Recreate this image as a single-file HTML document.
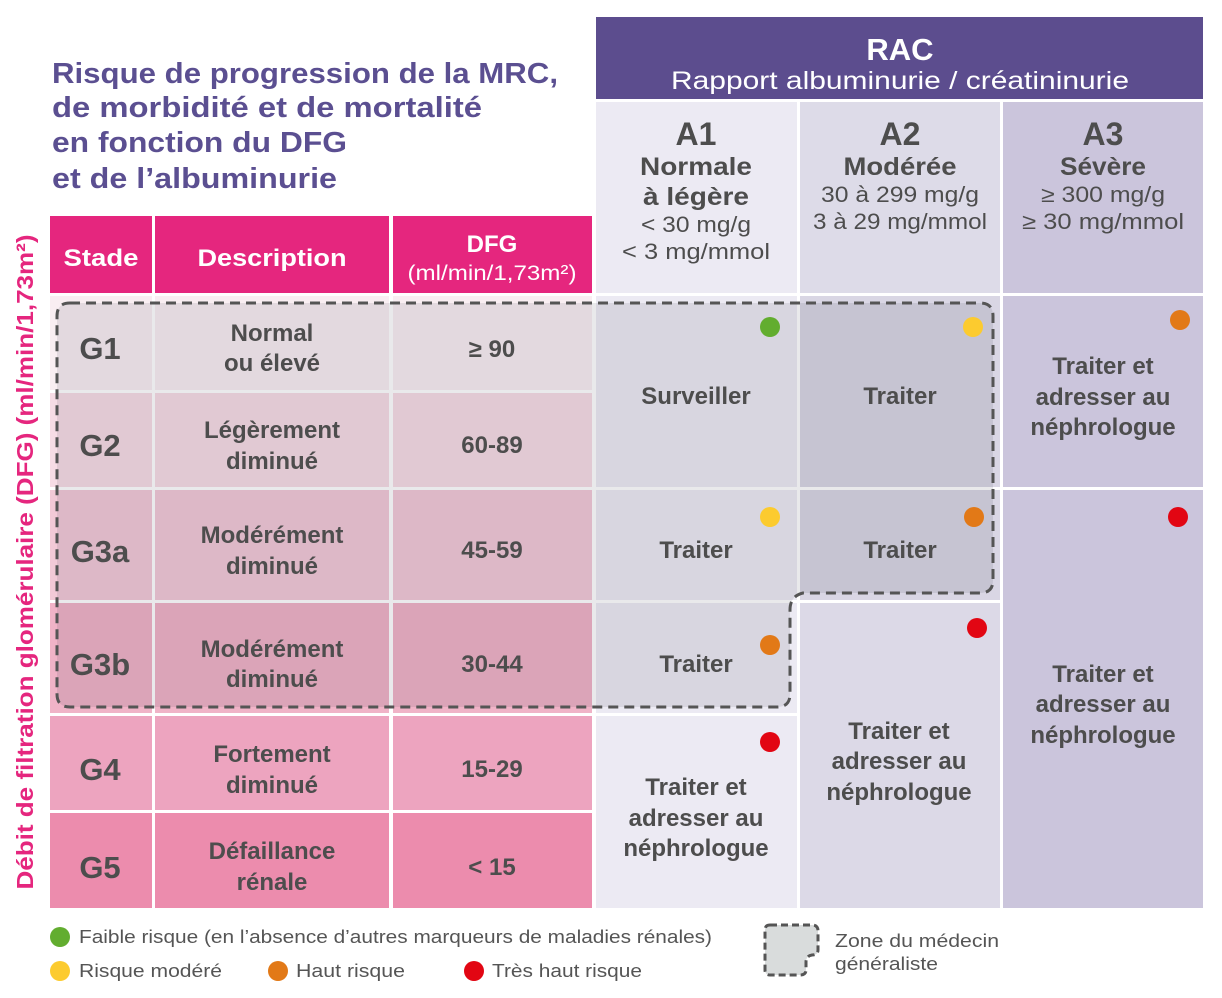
<!DOCTYPE html>
<html><head><meta charset="utf-8"><style>
html,body{margin:0;padding:0;background:#fff;}
svg{display:block;}
text{font-family:"Liberation Sans",sans-serif;}
.t{fill:#4d4d4d;font-size:24px;font-weight:bold;text-anchor:middle;}
.g{fill:#4d4d4d;font-size:31px;font-weight:bold;text-anchor:middle;}
.h{fill:#4d4d4d;text-anchor:middle;}
.l{fill:#555;font-size:18px;}
</style></head><body>
<svg width="1222" height="998" viewBox="0 0 1222 998">
<g fill="#5b4f91" font-size="29" font-weight="bold">
<text x="52" y="83" textLength="506" lengthAdjust="spacingAndGlyphs">Risque de progression de la MRC,</text>
<text x="52" y="117" textLength="430" lengthAdjust="spacingAndGlyphs">de morbidité et de mortalité</text>
<text x="52" y="152" textLength="295" lengthAdjust="spacingAndGlyphs">en fonction du DFG</text>
<text x="52" y="188" textLength="285" lengthAdjust="spacingAndGlyphs">et de l’albuminurie</text>
</g>
<rect x="596" y="17" width="607" height="82" fill="#5c4d8e"/>
<text x="900" y="60" fill="#fff" font-size="31" font-weight="bold" text-anchor="middle">RAC</text>
<text x="900" y="89" fill="#fff" font-size="25" text-anchor="middle" textLength="458" lengthAdjust="spacingAndGlyphs">Rapport albuminurie / créatininurie</text>
<rect x="596" y="102" width="201" height="191" fill="#eceaf3"/>
<rect x="800" y="102" width="200" height="191" fill="#dddbe8"/>
<rect x="1003" y="102" width="200" height="191" fill="#cbc5dc"/>
<g class="h">
<text x="696" y="145" font-size="32" font-weight="bold">A1</text>
<text x="696" y="175" font-size="25" font-weight="bold" textLength="112" lengthAdjust="spacingAndGlyphs">Normale</text>
<text x="696" y="205" font-size="25" font-weight="bold" textLength="106" lengthAdjust="spacingAndGlyphs">à légère</text>
<text x="696" y="232" font-size="22" textLength="110" lengthAdjust="spacingAndGlyphs">&lt; 30 mg/g</text>
<text x="696" y="259" font-size="22" textLength="148" lengthAdjust="spacingAndGlyphs">&lt; 3 mg/mmol</text>
<text x="900" y="145" font-size="32" font-weight="bold">A2</text>
<text x="900" y="175" font-size="25" font-weight="bold" textLength="113" lengthAdjust="spacingAndGlyphs">Modérée</text>
<text x="900" y="202" font-size="22" textLength="158" lengthAdjust="spacingAndGlyphs">30 à 299 mg/g</text>
<text x="900" y="229" font-size="22" textLength="174" lengthAdjust="spacingAndGlyphs">3 à 29 mg/mmol</text>
<text x="1103" y="145" font-size="32" font-weight="bold">A3</text>
<text x="1103" y="175" font-size="25" font-weight="bold" textLength="86" lengthAdjust="spacingAndGlyphs">Sévère</text>
<text x="1103" y="202" font-size="22" textLength="124" lengthAdjust="spacingAndGlyphs">≥ 300 mg/g</text>
<text x="1103" y="229" font-size="22" textLength="162" lengthAdjust="spacingAndGlyphs">≥ 30 mg/mmol</text>
</g>
<rect x="50" y="216" width="102" height="77" fill="#e5267e"/>
<rect x="155" y="216" width="234" height="77" fill="#e5267e"/>
<rect x="393" y="216" width="199" height="77" fill="#e5267e"/>
<g fill="#fff" text-anchor="middle">
<text x="101" y="266" font-size="24" font-weight="bold" textLength="75" lengthAdjust="spacingAndGlyphs">Stade</text>
<text x="272" y="266" font-size="24" font-weight="bold" textLength="149" lengthAdjust="spacingAndGlyphs">Description</text>
<text x="492" y="252" font-size="24" font-weight="bold">DFG</text>
<text x="492" y="280" font-size="21" textLength="169" lengthAdjust="spacingAndGlyphs">(ml/min/1,73m²)</text>
</g>
<text transform="translate(33,562) rotate(-90)" fill="#e5267e" font-size="23" font-weight="bold" text-anchor="middle" textLength="655" lengthAdjust="spacingAndGlyphs">Débit de filtration glomérulaire (DFG) (ml/min/1,73m²)</text>
<g>
<rect x="50" y="296" width="102" height="94" fill="#f9eef2"/><rect x="155" y="296" width="234" height="94" fill="#f9eef2"/><rect x="393" y="296" width="199" height="94" fill="#f9eef2"/>
<rect x="50" y="393" width="102" height="94" fill="#f6dce5"/><rect x="155" y="393" width="234" height="94" fill="#f6dce5"/><rect x="393" y="393" width="199" height="94" fill="#f6dce5"/>
<rect x="50" y="490" width="102" height="110" fill="#f2c9d7"/><rect x="155" y="490" width="234" height="110" fill="#f2c9d7"/><rect x="393" y="490" width="199" height="110" fill="#f2c9d7"/>
<rect x="50" y="603" width="102" height="110" fill="#f0b3c7"/><rect x="155" y="603" width="234" height="110" fill="#f0b3c7"/><rect x="393" y="603" width="199" height="110" fill="#f0b3c7"/>
<rect x="50" y="716" width="102" height="94" fill="#eda4bf"/><rect x="155" y="716" width="234" height="94" fill="#eda4bf"/><rect x="393" y="716" width="199" height="94" fill="#eda4bf"/>
<rect x="50" y="813" width="102" height="95" fill="#ec8cad"/><rect x="155" y="813" width="234" height="95" fill="#ec8cad"/><rect x="393" y="813" width="199" height="95" fill="#ec8cad"/>
</g>
<rect x="596" y="296" width="201" height="191" fill="#eceaf3"/>
<rect x="596" y="490" width="201" height="110" fill="#eceaf3"/>
<rect x="596" y="603" width="201" height="110" fill="#eceaf3"/>
<rect x="596" y="716" width="201" height="192" fill="#eceaf3"/>
<rect x="800" y="296" width="200" height="191" fill="#d9d6e4"/>
<rect x="800" y="490" width="200" height="110" fill="#d9d6e4"/>
<rect x="800" y="603" width="200" height="305" fill="#dcd9e7"/>
<rect x="1003" y="296" width="200" height="191" fill="#cbc5dc"/>
<rect x="1003" y="490" width="200" height="418" fill="#cbc5dc"/>
<path d="M70,303 H980 Q993,303 993,316 V580 Q993,593 980,593 H803 Q790,596 790,610 V694 Q790,707 777,707 H70 Q57,707 57,694 V316 Q57,303 70,303 Z" fill="rgba(40,40,60,0.1)" stroke="#555" stroke-width="3" stroke-dasharray="10,6"/>
<g class="g">
<text x="100" y="359">G1</text><text x="100" y="456">G2</text><text x="100" y="562">G3a</text><text x="100" y="675">G3b</text><text x="100" y="780">G4</text><text x="100" y="878">G5</text>
</g>
<g class="t">
<text x="272" y="341">Normal</text><text x="272" y="371">ou élevé</text>
<text x="272" y="438">Légèrement</text><text x="272" y="469">diminué</text>
<text x="272" y="543">Modérément</text><text x="272" y="574">diminué</text>
<text x="272" y="657">Modérément</text><text x="272" y="687">diminué</text>
<text x="272" y="762">Fortement</text><text x="272" y="793">diminué</text>
<text x="272" y="859">Défaillance</text><text x="272" y="890">rénale</text>
<text x="492" y="357">≥ 90</text><text x="492" y="453">60-89</text><text x="492" y="558">45-59</text><text x="492" y="672">30-44</text><text x="492" y="777">15-29</text><text x="492" y="875">&lt; 15</text>
<text x="696" y="404">Surveiller</text>
<text x="900" y="404">Traiter</text>
<text x="1103" y="374">Traiter et</text><text x="1103" y="405">adresser au</text><text x="1103" y="435">néphrologue</text>
<text x="696" y="558">Traiter</text><text x="900" y="558">Traiter</text>
<text x="696" y="672">Traiter</text>
<text x="899" y="739">Traiter et</text><text x="899" y="769">adresser au</text><text x="899" y="800">néphrologue</text>
<text x="696" y="795">Traiter et</text><text x="696" y="826">adresser au</text><text x="696" y="856">néphrologue</text>
<text x="1103" y="682">Traiter et</text><text x="1103" y="712">adresser au</text><text x="1103" y="743">néphrologue</text>
</g>
<circle cx="770" cy="327" r="10" fill="#62ad2f"/>
<circle cx="973" cy="327" r="10" fill="#fccb2f"/>
<circle cx="1180" cy="320" r="10" fill="#e27917"/>
<circle cx="770" cy="517" r="10" fill="#fccb2f"/>
<circle cx="974" cy="517" r="10" fill="#e27917"/>
<circle cx="1178" cy="517" r="10" fill="#e20613"/>
<circle cx="770" cy="645" r="10" fill="#e27917"/>
<circle cx="977" cy="628" r="10" fill="#e20613"/>
<circle cx="770" cy="742" r="10" fill="#e20613"/>
<circle cx="60" cy="937" r="10" fill="#62ad2f"/>
<text class="l" x="79" y="943" textLength="633" lengthAdjust="spacingAndGlyphs">Faible risque (en l’absence d’autres marqueurs de maladies rénales)</text>
<circle cx="60" cy="971" r="10" fill="#fccb2f"/>
<text class="l" x="79" y="977" textLength="143" lengthAdjust="spacingAndGlyphs">Risque modéré</text>
<circle cx="278" cy="971" r="10" fill="#e27917"/>
<text class="l" x="296" y="977" textLength="109" lengthAdjust="spacingAndGlyphs">Haut risque</text>
<circle cx="474" cy="971" r="10" fill="#e20613"/>
<text class="l" x="492" y="977" textLength="150" lengthAdjust="spacingAndGlyphs">Très haut risque</text>
<path d="M770,925 H812 Q818,925 818,931 V950 Q818,955 812,955 Q806,956 806,962 V970 Q806,975 800,975 H770 Q765,975 765,970 V930 Q765,925 770,925 Z" fill="#d9dcdc" stroke="#555" stroke-width="3" stroke-dasharray="7,4"/>
<text class="l" x="835" y="947" textLength="164" lengthAdjust="spacingAndGlyphs">Zone du médecin</text>
<text class="l" x="835" y="970" textLength="103" lengthAdjust="spacingAndGlyphs">généraliste</text>
</svg>
</body></html>
